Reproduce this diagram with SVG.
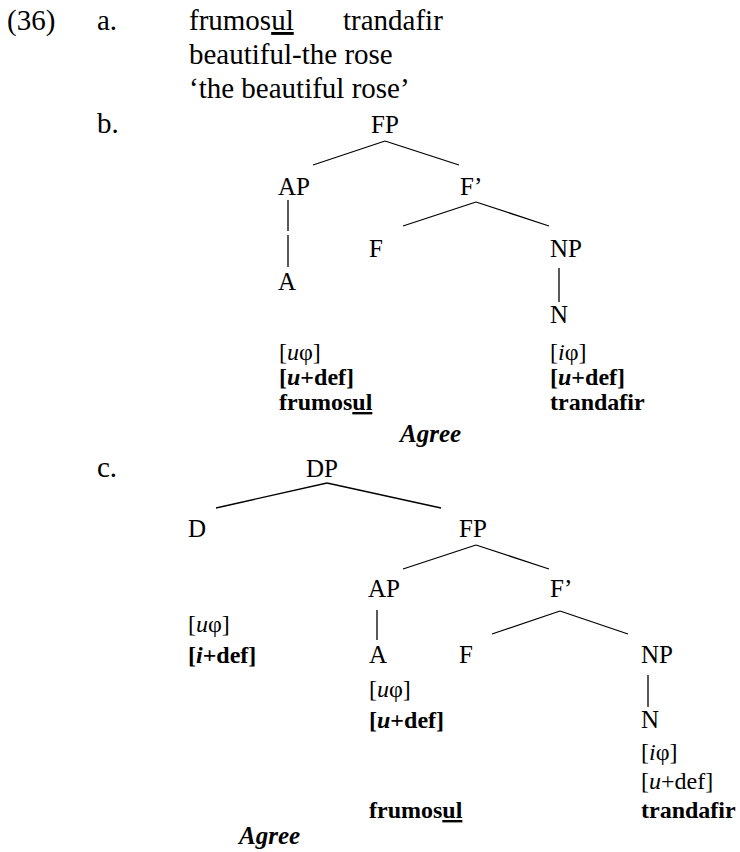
<svg xmlns="http://www.w3.org/2000/svg" width="740" height="852" viewBox="0 0 740 852" font-family="'Liberation Serif', 'Times New Roman', serif">
<style>
text{font-family:'Liberation Serif','Times New Roman',Times,serif;font-size:24px;fill:#000}
.big{font-size:29px}
.lab{font-size:25px}
.b{font-weight:bold}
.i{font-style:italic}
.m{text-anchor:middle}
.u{text-decoration:underline}
line{stroke:#000;stroke-width:1.3;fill:none}
</style>
<rect width="740" height="852" fill="#fff"/>
<g id="example-a">
<text class="big" x="7" y="30">(36)</text>
<text class="big" x="97" y="30">a.</text>
<text class="big" x="189" y="30">frumos<tspan class="u">ul</tspan></text>
<text class="big" x="343" y="30">trandafir</text>
<text class="big" x="189" y="64">beautiful-the rose</text>
<text class="big" x="189" y="98">‘the beautiful rose’</text>
</g>
<g id="tree-b">
<text class="big" x="97" y="133">b.</text>
<g id="b-FP"><text class="lab m" x="385" y="133">FP</text></g>
<g id="b-AP"><text class="lab" x="278" y="195">AP</text></g>
<g id="b-F1"><text class="lab" x="460" y="195">F’</text></g>
<g id="b-F"><text class="lab" x="369" y="257">F</text></g>
<g id="b-NP"><text class="lab" x="550" y="257">NP</text></g>
<g id="b-A"><text class="lab" x="278" y="290">A</text>
<text x="279" y="360">[<tspan class="i">u</tspan>φ]</text>
<text x="279" y="385" class="b">[<tspan class="i">u</tspan>+def]</text>
<text x="279" y="410" class="b">frumos<tspan class="u">ul</tspan></text></g>
<g id="b-N"><text class="lab" x="550" y="323">N</text>
<text x="550" y="360">[<tspan class="i">i</tspan>φ]</text>
<text x="550" y="385" class="b">[<tspan class="i">u</tspan>+def]</text>
<text x="550" y="410" class="b">trandafir</text></g>
<g id="b-agree"><text class="lab b i" x="400" y="442">Agree</text></g>
</g>
<g id="tree-c">
<text class="big" x="97" y="477">c.</text>
<g id="c-DP"><text class="lab m" x="322" y="477">DP</text></g>
<g id="c-D"><text class="lab" x="188" y="537">D</text>
<text x="188" y="632">[<tspan class="i">u</tspan>φ]</text>
<text x="188" y="663" class="b">[<tspan class="i">i</tspan>+def]</text></g>
<g id="c-FP"><text class="lab m" x="473" y="537">FP</text></g>
<g id="c-AP"><text class="lab" x="368" y="597">AP</text></g>
<g id="c-F1"><text class="lab" x="550" y="597">F’</text></g>
<g id="c-A"><text class="lab" x="369" y="663">A</text>
<text x="369" y="697">[<tspan class="i">u</tspan>φ]</text>
<text x="369" y="728" class="b">[<tspan class="i">u</tspan>+def]</text>
<text x="369" y="818" class="b">frumos<tspan class="u">ul</tspan></text></g>
<g id="c-F"><text class="lab" x="459" y="663">F</text></g>
<g id="c-NP"><text class="lab" x="641" y="663">NP</text></g>
<g id="c-N"><text class="lab" x="641" y="728">N</text>
<text x="641" y="760">[<tspan class="i">i</tspan>φ]</text>
<text x="641" y="789">[<tspan class="i">u</tspan>+def]</text>
<text x="641" y="818" class="b">trandafir</text></g>
<g id="c-agree"><text class="lab b i" x="239" y="844">Agree</text></g>
</g>
<g id="connectors">
<line x1="385" y1="141" x2="313" y2="165"/>
<line x1="385" y1="141" x2="459" y2="165"/>
<line x1="288" y1="200" x2="288" y2="231"/>
<line x1="288" y1="235" x2="288" y2="267"/>
<line x1="476" y1="202" x2="403" y2="226"/>
<line x1="476" y1="202" x2="549" y2="226"/>
<line x1="559" y1="268" x2="559" y2="302"/>
<line x1="327" y1="483" x2="216" y2="508"/>
<line x1="327" y1="483" x2="441" y2="508"/>
<line x1="476" y1="545" x2="403" y2="569"/>
<line x1="476" y1="545" x2="549" y2="569"/>
<line x1="377" y1="610" x2="377" y2="640"/>
<line x1="560" y1="611" x2="492" y2="634"/>
<line x1="560" y1="611" x2="628" y2="634"/>
<line x1="648" y1="675" x2="648" y2="707"/>
</g>
</svg>
